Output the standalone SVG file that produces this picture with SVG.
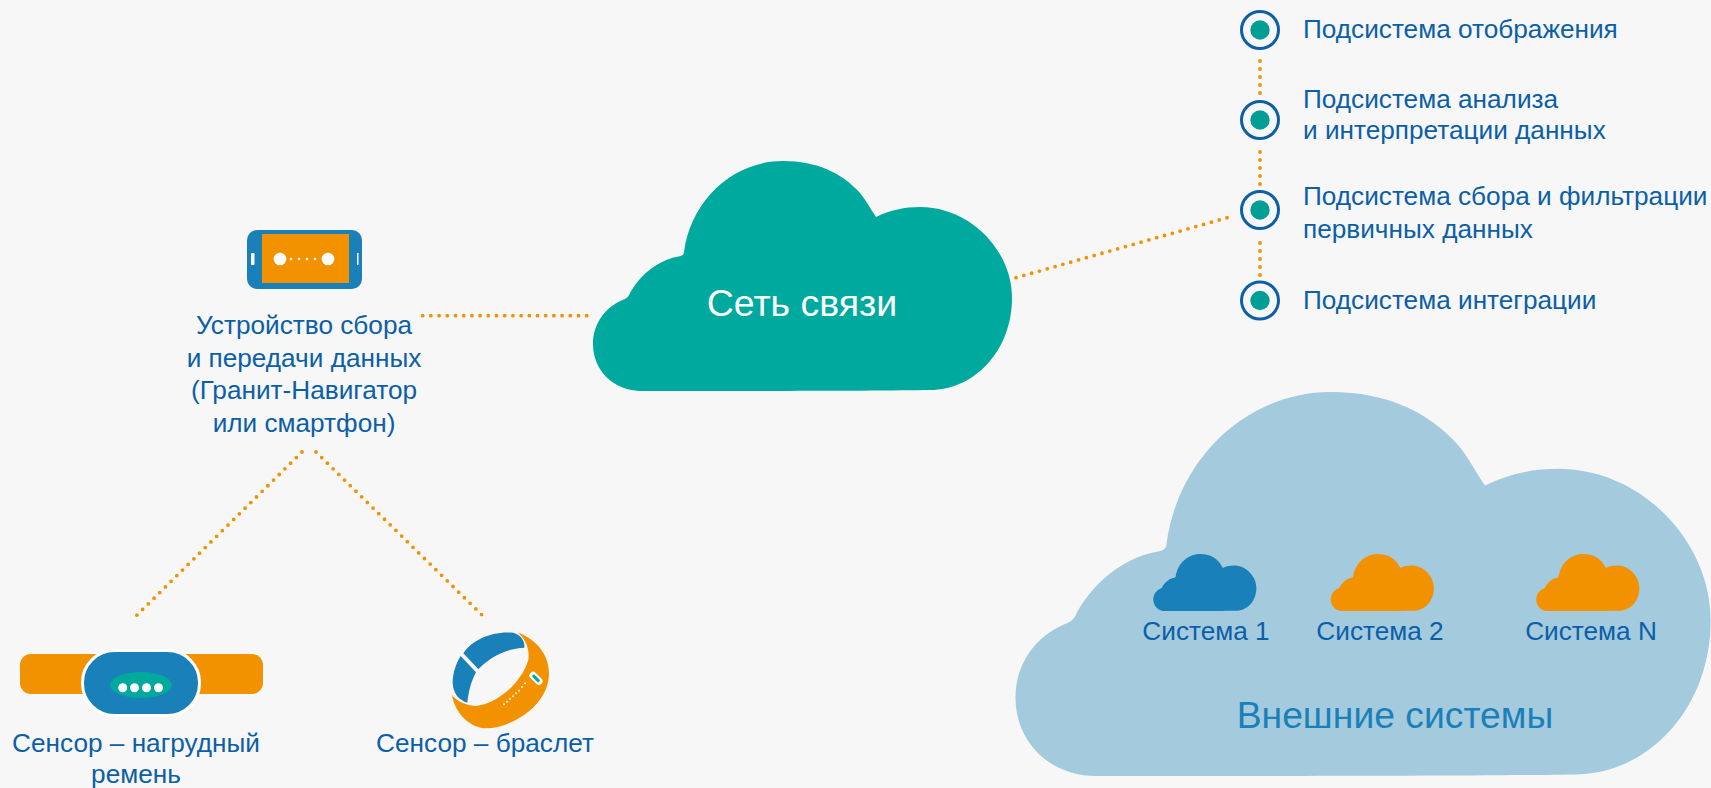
<svg xmlns="http://www.w3.org/2000/svg" xmlns:xlink="http://www.w3.org/1999/xlink" width="1711" height="788" viewBox="0 0 1711 788">
<style>
text{font-family:"Liberation Sans","Noto Sans",Arial,sans-serif;fill:#0b5fa8;font-size:26.2px}
.m{text-anchor:middle}
.c{fill:none;stroke:#f39200;stroke-width:3.8;stroke-linecap:round;stroke-dasharray:0 8}
.ring{fill:none;stroke:#0b5fa8;stroke-width:3}
.dot{fill:#009e94}
.w{fill:#fff}
.o{fill:#f39200}
.b{fill:#1a80b9}
</style>
<defs>
<path id="cloud" d="M642 391C613 391 593 370 593 344C593 323 606 306 625 299C627 298 629 296 630 293C642 272 661 259 681 256C683 255 684 254 684 252C691 200 733 161 783 161C817 161 842 173 860 193C866 200 871 210 876 217C890 210 905 207 920 207C970 207 1012 250 1012 298C1012 350 975 390 930 390C880 391 700 391 642 391Z"/>
</defs>
<rect width="1711" height="788" fill="#f7f7f7"/>
<g id="connectors">
<path class="c" d="M422.700 315.700L587 315.700" style="stroke-dasharray:0 8.200"/>
<path class="c" d="M1016 277.700L1227.500 217.600" style="stroke-dasharray:0 8.126"/>
<path class="c" d="M302 452L136.500 615.500"/>
<path class="c" d="M316 452L482 615"/>
<path class="c" d="M1260 61V93.300M1260 152V184.300M1260 243V275.300"/>
</g>
<g id="network">
<use xlink:href="#cloud" fill="#00a99d"/>
<text class="m" x="802" y="316" style="fill:#fff;font-size:37.5px">Сеть связи</text>
</g>
<g id="device">
<rect class="b" x="247" y="230" width="115" height="59" rx="10"/>
<rect class="o" x="262" y="234" width="87" height="49"/>
<rect class="w" x="251" y="253" width="3.500" height="12" rx="1"/>
<rect class="w" x="357" y="253" width="1.500" height="12"/>
<circle class="w" cx="280" cy="259" r="6.300"/><circle class="w" cx="328" cy="259" r="6.300"/>
<circle class="w" cx="291" cy="259" r="1.300"/><circle class="w" cx="299" cy="259" r="1.300"/><circle class="w" cx="307" cy="259" r="1.300"/><circle class="w" cx="315" cy="259" r="1.300"/>
<text class="m" x="304" y="334">Устройство сбора</text>
<text class="m" x="304" y="367">и передачи данных</text>
<text class="m" x="304" y="399">(Гранит-Навигатор</text>
<text class="m" x="304" y="432">или смартфон)</text>
</g>
<g id="strap">
<rect class="o" x="20" y="654" width="243" height="40" rx="11"/>
<rect class="b" x="82.500" y="650.500" width="117" height="65" rx="32" stroke="#fff" stroke-width="3"/>
<ellipse cx="141" cy="685" rx="31" ry="13" fill="#00a99d"/>
<circle class="w" cx="122.700" cy="687.700" r="4.500"/><circle class="w" cx="134.500" cy="687.700" r="4.500"/><circle class="w" cx="146.500" cy="687.700" r="4.500"/><circle class="w" cx="158.500" cy="687.700" r="4.500"/>
<text class="m" x="136" y="752">Сенсор – нагрудный</text>
<text class="m" x="136" y="783">ремень</text>
</g>
<g id="bracelet">
<g transform="translate(430 620) scale(.3333)">
<path class="o" d="M262 37C300 50 357 90 357 160C357 260 240 325 170 325C120 325 75 280 66 225C85 248 110 255 135 258C190 255 270 200 295 120C300 85 285 55 262 37Z"/>
<path class="b" d="M100 100C125 60 185 32 250 38C275 45 285 65 283 83C230 85 180 110 145 148Z"/>
<path class="b" d="M92 108L138 157C125 180 115 215 112 248C85 240 70 220 68 190C68 160 78 130 92 108Z"/>
<rect class="w" x="295" y="164" width="46" height="22" rx="11" transform="rotate(45 318 175)"/>
<rect x="304" y="170.500" width="28" height="9" rx="4.500" fill="#00a99d" transform="rotate(45 318 175)"/>
<g class="w"><circle cx="222" cy="253" r="3"/><circle cx="231" cy="245" r="3"/><circle cx="240" cy="237" r="3"/><circle cx="249" cy="229" r="3"/><circle cx="258" cy="220" r="3"/><circle cx="267" cy="212" r="3"/><circle cx="276" cy="201" r="3"/><circle cx="285" cy="190" r="3"/></g>
</g>
<text class="m" x="485" y="752">Сенсор – браслет</text>
</g>
<g id="subsystems">
<g id="s1"><circle class="ring" cx="1260" cy="30" r="18.500"/><circle class="dot" cx="1260" cy="30" r="9.700"/><text x="1303" y="38">Подсистема отображения</text></g>
<g id="s2"><circle class="ring" cx="1260" cy="120" r="18.500"/><circle class="dot" cx="1260" cy="120" r="9.700"/><text x="1303" y="108">Подсистема анализа</text><text x="1303" y="139">и интерпретации данных</text></g>
<g id="s3"><circle class="ring" cx="1260" cy="210" r="18.500"/><circle class="dot" cx="1260" cy="210" r="9.700"/><text x="1303" y="205">Подсистема сбора и фильтрации</text><text x="1303" y="238">первичных данных</text></g>
<g id="s4"><circle class="ring" cx="1260" cy="300.500" r="18.500"/><circle class="dot" cx="1260" cy="300.500" r="9.700"/><text x="1303" y="309">Подсистема интеграции</text></g>
</g>
<g id="external">
<use xlink:href="#cloud" fill="#a4cade" transform="translate(1015.500 392) scale(1.659 1.670) translate(-593 -161)"/>
<text class="m" x="1395" y="728" style="fill:#1a80b9;font-size:37.3px">Внешние системы</text>
</g>
<g id="sys1"><use xlink:href="#cloud" class="b" transform="translate(1153.300 554) scale(.246 .248) translate(-593 -161)"/><text class="m" x="1206" y="640">Система 1</text></g>
<g id="sys2"><use xlink:href="#cloud" class="o" transform="translate(1330.800 554) scale(.246 .248) translate(-593 -161)"/><text class="m" x="1380" y="640">Система 2</text></g>
<g id="sysn"><use xlink:href="#cloud" class="o" transform="translate(1536.300 554) scale(.246 .248) translate(-593 -161)"/><text class="m" x="1591" y="640">Система N</text></g>
</svg>
